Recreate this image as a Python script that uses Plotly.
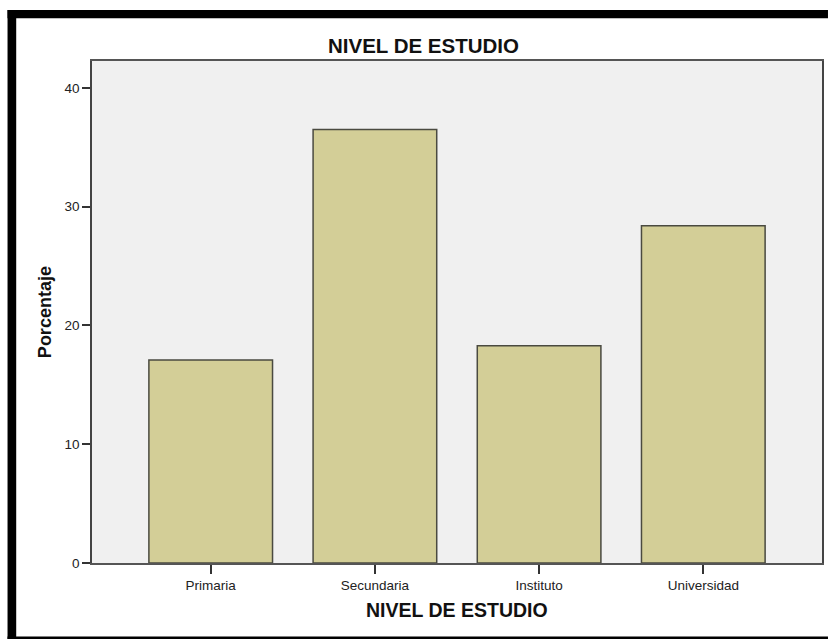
import plotly.graph_objects as go

categories = ["Primaria", "Secundaria", "Instituto", "Universidad"]
percentages = [17.1, 36.5, 18.3, 28.4]
y_ticks = [0, 10, 20, 30, 40]

W, H = 830, 639
L, R, T, B = 92, 824, 61, 563
pw, ph = R - L, B - T

def px(x):
    return (x - L) / pw

def py(y):
    return (B - y) / ph

fig = go.Figure()
fig.add_trace(go.Bar(
    x=categories, y=percentages,
    marker=dict(color="#d3ce97", line=dict(color="#4a4a40", width=1.5)),
    width=0.753,
))

FONT = "Liberation Sans, Arial, sans-serif"
fig.update_layout(
    width=W, height=H,
    margin=dict(l=L, r=W - R, t=T, b=H - B),
    paper_bgcolor="white", plot_bgcolor="#f0f0f0",
    showlegend=False,
    font=dict(family=FONT, size=13.5, color="#222222"),
    xaxis=dict(range=[-0.723, 3.723], showgrid=False, ticks="outside", ticklen=9,
               tickcolor="#333333", tickwidth=1.5, showline=True, linecolor="#555555",
               linewidth=1.5, mirror=True, tickfont=dict(size=13.5, color="#222222")),
    yaxis=dict(range=[0, 42.27], tickvals=y_ticks, showgrid=False, ticks="outside",
               ticklen=8, tickcolor="#333333", tickwidth=1.5, showline=True,
               linecolor="#444444", linewidth=1.5, mirror=True, zeroline=False,
               tickfont=dict(size=13.5, color="#222222")),
)

def label(text, x, y, size, angle=0):
    fig.add_annotation(text=text, xref="paper", yref="paper",
                       x=px(x), y=py(y), xanchor="center", yanchor="middle",
                       showarrow=False, textangle=angle,
                       font=dict(family=FONT, size=size, color="#111111"))

label("<b>NIVEL DE ESTUDIO</b>", 424, 45, 20.5)
label("<b>NIVEL DE ESTUDIO</b>", 458, 610, 19.5)
label("<b>Porcentaje</b>", 45, 312, 18, -90)

# black frame
frame = [(7.3, 10, 16, 639), (7.3, 10, 830, 18.3), (7.3, 636.5, 830, 639)]
for x0, y0, x1, y1 in frame:
    fig.add_shape(type="rect", xref="paper", yref="paper",
                  x0=px(x0), x1=px(x1), y0=py(y1), y1=py(y0),
                  fillcolor="black", line=dict(width=0), layer="above")

fig.write_html("out.html", config={"displayModeBar": False},
               post_script="document.body.style.margin='0';document.body.style.overflow='hidden';")
